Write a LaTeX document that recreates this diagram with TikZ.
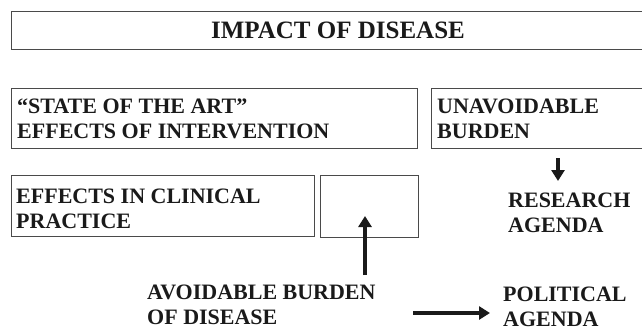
\documentclass[tikz,border=0pt]{standalone}
\usepackage{fontspec}
\setmainfont{Liberation Serif}
\usetikzlibrary{arrows.meta}
\definecolor{ink}{HTML}{1A1A1A}
\definecolor{frame}{HTML}{4A4A4A}
\tikzset{
  boxnode/.style={draw=frame, line width=1bp, inner sep=0pt, anchor=north west},
  lbl/.style={inner sep=0pt, anchor=north west, align=left, text=ink,
    font=\bfseries\fontsize{22bp}{25bp}\selectfont},
  ttl/.style={inner sep=0pt, anchor=base, text=ink,
    font=\bfseries\fontsize{25bp}{30bp}\selectfont},
  arr/.style={line width=3.4bp, draw=ink, -{Triangle[width=13bp,length=11bp]}}
}
\begin{document}
\begin{tikzpicture}[x=1bp,y=-1bp]
\useasboundingbox (0,0) rectangle (642,332);
\clip (0,0) rectangle (642,332);
% boxes
\node[boxnode, minimum width=680bp, minimum height=38.3bp] (top) at (10.7,10.7) {};
\node[boxnode, minimum width=406.3bp, minimum height=60bp] (b1) at (10.7,87.5) {};
\node[boxnode, minimum width=260bp, minimum height=60bp] (b2) at (431,87.5) {};
\node[boxnode, minimum width=302.5bp, minimum height=61bp] (b3) at (11,175) {};
\node[boxnode, minimum width=98bp, minimum height=61.5bp] (b4) at (319.5,175) {};
% texts
\node[ttl] (title) at (338,38) {IMPACT OF DISEASE};
\node[lbl] (t1) at (17,98.4) {“STATE OF THE ART”\\EFFECTS OF INTERVENTION};
\node[lbl] (t2) at (437,98.4) {UNAVOIDABLE\\BURDEN};
\node[lbl] (t3) at (16,189) {EFFECTS IN CLINICAL\\PRACTICE};
\node[lbl] (t4) at (508,193) {RESEARCH\\AGENDA};
\node[lbl] (t5) at (147,285) {AVOIDABLE BURDEN\\OF DISEASE};
\node[lbl] (t6) at (503,287) {POLITICAL\\AGENDA};
% arrow ends
\coordinate (d1) at (558,158);
\coordinate (d2) at (558,181);
\coordinate (u1) at (365,275);
\coordinate (u2) at (365,216);
\coordinate (r1) at (413,313);
\coordinate (r2) at (490,313);
\draw[arr] (d1) -- (d2);
\draw[arr] (u1) -- (u2);
\draw[arr] (r1) -- (r2);
\end{tikzpicture}
\end{document}
